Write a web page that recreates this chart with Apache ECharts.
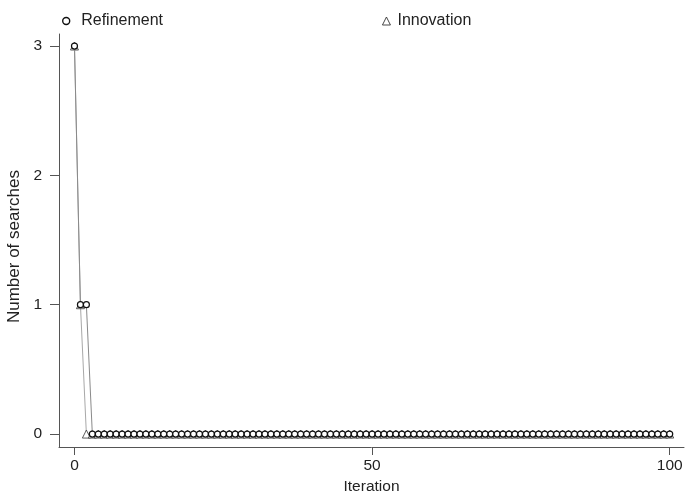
<!DOCTYPE html>
<html>
<head>
<meta charset="utf-8">
<title>Number of searches per iteration</title>
<script src="https://cdn.jsdelivr.net/npm/echarts@6/dist/echarts.min.js"></script>
<style>
  html, body { margin: 0; padding: 0; background: #ffffff; }
  #chart { width: 685px; height: 492px; }
</style>
</head>
<body>
<div id="chart"></div>
<script>
// Iteration numbers (x values)
const iterations = [
  0, 1, 2, 3, 4, 5, 6, 7, 8, 9,
  10, 11, 12, 13, 14, 15, 16, 17, 18, 19,
  20, 21, 22, 23, 24, 25, 26, 27, 28, 29,
  30, 31, 32, 33, 34, 35, 36, 37, 38, 39,
  40, 41, 42, 43, 44, 45, 46, 47, 48, 49,
  50, 51, 52, 53, 54, 55, 56, 57, 58, 59,
  60, 61, 62, 63, 64, 65, 66, 67, 68, 69,
  70, 71, 72, 73, 74, 75, 76, 77, 78, 79,
  80, 81, 82, 83, 84, 85, 86, 87, 88, 89,
  90, 91, 92, 93, 94, 95, 96, 97, 98, 99,
  100
];

// Number of refinement searches at each iteration
const refinement = [
  3, 1, 1, 0, 0, 0, 0, 0, 0, 0,
  0, 0, 0, 0, 0, 0, 0, 0, 0, 0,
  0, 0, 0, 0, 0, 0, 0, 0, 0, 0,
  0, 0, 0, 0, 0, 0, 0, 0, 0, 0,
  0, 0, 0, 0, 0, 0, 0, 0, 0, 0,
  0, 0, 0, 0, 0, 0, 0, 0, 0, 0,
  0, 0, 0, 0, 0, 0, 0, 0, 0, 0,
  0, 0, 0, 0, 0, 0, 0, 0, 0, 0,
  0, 0, 0, 0, 0, 0, 0, 0, 0, 0,
  0, 0, 0, 0, 0, 0, 0, 0, 0, 0,
  0
];

// Number of innovation searches at each iteration
const innovation = [
  3, 1, 0, 0, 0, 0, 0, 0, 0, 0,
  0, 0, 0, 0, 0, 0, 0, 0, 0, 0,
  0, 0, 0, 0, 0, 0, 0, 0, 0, 0,
  0, 0, 0, 0, 0, 0, 0, 0, 0, 0,
  0, 0, 0, 0, 0, 0, 0, 0, 0, 0,
  0, 0, 0, 0, 0, 0, 0, 0, 0, 0,
  0, 0, 0, 0, 0, 0, 0, 0, 0, 0,
  0, 0, 0, 0, 0, 0, 0, 0, 0, 0,
  0, 0, 0, 0, 0, 0, 0, 0, 0, 0,
  0, 0, 0, 0, 0, 0, 0, 0, 0, 0,
  0
];

// Tick labels
const xTicks = [0, 50, 100];
const yTicks = [0, 1, 2, 3];

const FONT = "'Liberation Sans', Arial, sans-serif";
const AXIS_COLOR = '#555555';
const TEXT_COLOR = '#222222';

const pairs = (ys) => iterations.map((x, i) => [x, ys[i]]);

const chart = echarts.init(document.getElementById('chart'), null, { renderer: 'canvas' });

chart.setOption({
  animation: false,
  backgroundColor: '#ffffff',
  textStyle: { fontFamily: FONT },
  grid: {
    left: 59, right: 1, top: 34, bottom: 45,
    containLabel: false,
    outerBoundsMode: 'none'
  },
  legend: [
    {
      data: [{
        name: 'Refinement',
        icon: 'circle',
        itemStyle: { color: '#ffffff', borderColor: '#111111', borderWidth: 1.4 }
      }],
      left: 57, top: 8,
      itemWidth: 20, itemHeight: 7,
      textStyle: { fontFamily: FONT, fontSize: 16, color: TEXT_COLOR }
    },
    {
      data: [{
        name: 'Innovation',
        icon: 'triangle',
        itemStyle: { color: '#ffffff', borderColor: '#333333', borderWidth: 0.9 }
      }],
      left: 377, top: 8,
      itemWidth: 8, itemHeight: 8,
      textStyle: { fontFamily: FONT, fontSize: 16, color: TEXT_COLOR, padding: [0, 0, 0, 2] }
    }
  ],
  xAxis: {
    type: 'value',
    min: -2.6,
    max: 102.4,
    name: 'Iteration',
    nameLocation: 'middle',
    nameGap: 29,
    nameTextStyle: { fontFamily: FONT, fontSize: 15.5, color: TEXT_COLOR },
    axisLine: { show: true, onZero: false, lineStyle: { color: AXIS_COLOR, width: 1 } },
    axisTick: { show: true, length: 8, customValues: xTicks, lineStyle: { color: AXIS_COLOR } },
    axisLabel: { customValues: xTicks, margin: 11, fontFamily: FONT, fontSize: 15.5, color: TEXT_COLOR },
    splitLine: { show: false }
  },
  yAxis: {
    type: 'value',
    min: -0.1,
    max: 3.093,
    name: 'Number of searches',
    nameLocation: 'middle',
    nameGap: 30,
    nameRotate: 90,
    nameTextStyle: { fontFamily: FONT, fontSize: 17, color: TEXT_COLOR, padding: [0, 12, 0, 0] },
    axisLine: { show: true, onZero: false, lineStyle: { color: AXIS_COLOR, width: 1 } },
    axisTick: { show: true, length: 9, customValues: yTicks, lineStyle: { color: AXIS_COLOR } },
    axisLabel: { customValues: yTicks, margin: 17, fontFamily: FONT, fontSize: 15.5, color: TEXT_COLOR },
    splitLine: { show: false }
  },
  series: [
    {
      name: 'Innovation',
      type: 'line',
      data: pairs(innovation),
      symbol: 'triangle',
      symbolSize: [8, 8],
      showAllSymbol: true,
      itemStyle: { color: '#ffffff', borderColor: '#333333', borderWidth: 0.8 },
      lineStyle: { color: '#a8a8a8', width: 1 },
      z: 2
    },
    {
      name: 'Refinement',
      type: 'line',
      data: pairs(refinement),
      symbol: 'circle',
      symbolSize: 6,
      showAllSymbol: true,
      itemStyle: { color: '#ffffff', borderColor: '#111111', borderWidth: 1.2 },
      lineStyle: { color: '#8a8a8a', width: 1 },
      z: 3
    }
  ]
});
</script>
</body>
</html>
